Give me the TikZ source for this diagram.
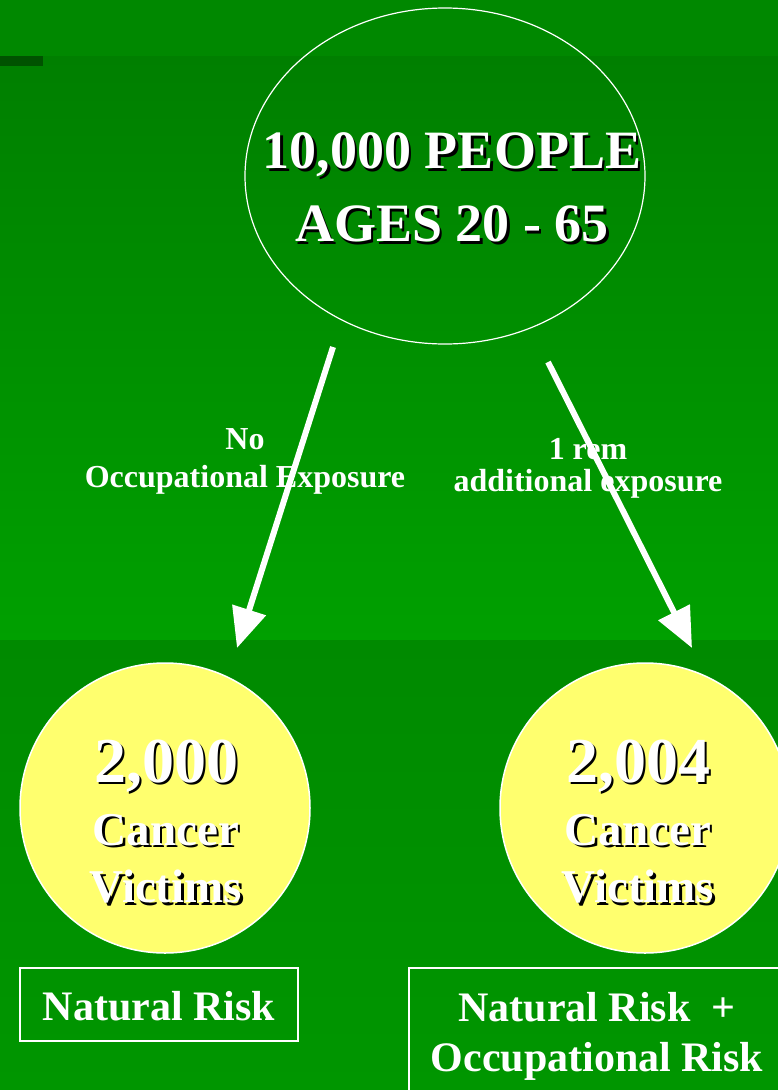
\documentclass[tikz,border=0pt]{standalone}
\usepackage{fontspec}
\setmainfont{Liberation Serif}
\usepackage{tikz}
\usetikzlibrary{arrows.meta,calc,positioning,shapes.geometric}
\definecolor{bgtop}{HTML}{008800}
\definecolor{bgdark}{HTML}{007F00}
\definecolor{bglight}{HTML}{00A000}
\definecolor{bglow}{HTML}{008A00}
\definecolor{bgbottom}{HTML}{009600}
\definecolor{barcol}{HTML}{005200}
\definecolor{victim}{HTML}{FFFF6E}
\tikzset{
  big/.style={font=\fontsize{54}{60}\selectfont\bfseries},
  num/.style={font=\fontsize{64}{70}\selectfont\bfseries},
  word/.style={font=\fontsize{47}{52}\selectfont\bfseries},
  lbl/.style={font=\fontsize{32}{38}\selectfont\bfseries, text=white, align=center, inner sep=0pt},
  risk/.style={font=\fontsize{42}{50}\selectfont\bfseries, text=white, align=center, inner sep=0pt},
  shade/.style={text=black, inner sep=0pt},
  lit/.style={text=white, inner sep=0pt},
  people/.style={ellipse, draw=white, line width=1.2pt, minimum width=400pt, minimum height=336pt},
  victimcirc/.style={circle, draw=white, line width=1.5pt, fill=victim, minimum size=290pt},
  riskbox/.style={draw=white, line width=1.8pt},
  flow/.style={white, line width=6pt, -{Triangle[width=34pt,length=40pt]}}
}
\newcommand{\shadowed}[4]{% style, name, position, text
  \node[#1, shade] (#2sh) at ($(#3)+(2.5,2.5)$) {#4};
  \node[#1, lit] (#2) at (#3) {#4};
}
\begin{document}
\begin{tikzpicture}[x=1pt, y=-1pt]
\useasboundingbox (0,0) rectangle (778,1090);
\begin{scope}
\clip (0,0) rectangle (778,1090);
% background
\fill[bgtop] (0,0) rectangle (778,57);
\shade[top color=bgdark, bottom color=bglight] (0,56) rectangle (778,641);
\shade[top color=bglow, bottom color=bgbottom] (0,640) rectangle (778,1090);
\fill[barcol] (0,56) rectangle (43,66);

% population
\node[people] (pop) at (445,176) {};
\shadowed{big}{popa}{452,155}{10,000 PEOPLE}
\shadowed{big}{popb}{452,224}{AGES 20 - 65}

% outcomes
\node[victimcirc] (natc) at (165,808) {};
\node[victimcirc] (occc) at (645,808) {};
\shadowed{num}{natn}{166,766}{2,000}
\shadowed{word}{natw}{166,830}{Cancer}
\shadowed{word}{natv}{166,887}{Victims}
\shadowed{num}{occn}{638,766}{2,004}
\shadowed{word}{occw}{638,830}{Cancer}
\shadowed{word}{occv}{638,887}{Victims}

% boxes
\draw[riskbox] (20,968) rectangle (298,1041);
\node[risk] (natr) at (159,1006) {Natural Risk};
\draw[riskbox] (409,968) rectangle (790,1100);
\node[risk] (occr) at (597,1036) {Natural Risk\ \ +\\Occupational Risk};

% branch labels
\node[lbl] (nolbl) at (245,461) {No\\Occupational Exposure};
\node[lbl] (remlbl) at (588,468) {1 rem\\[-6pt]additional exposure};

% arrows
\coordinate (ls) at (333,347);
\coordinate (le) at (237,648);
\coordinate (rs) at (548,362);
\coordinate (re) at (692,648);
\draw[flow] (ls) -- (le);
\draw[flow] (rs) -- (re);
\end{scope}
\end{tikzpicture}
\end{document}
